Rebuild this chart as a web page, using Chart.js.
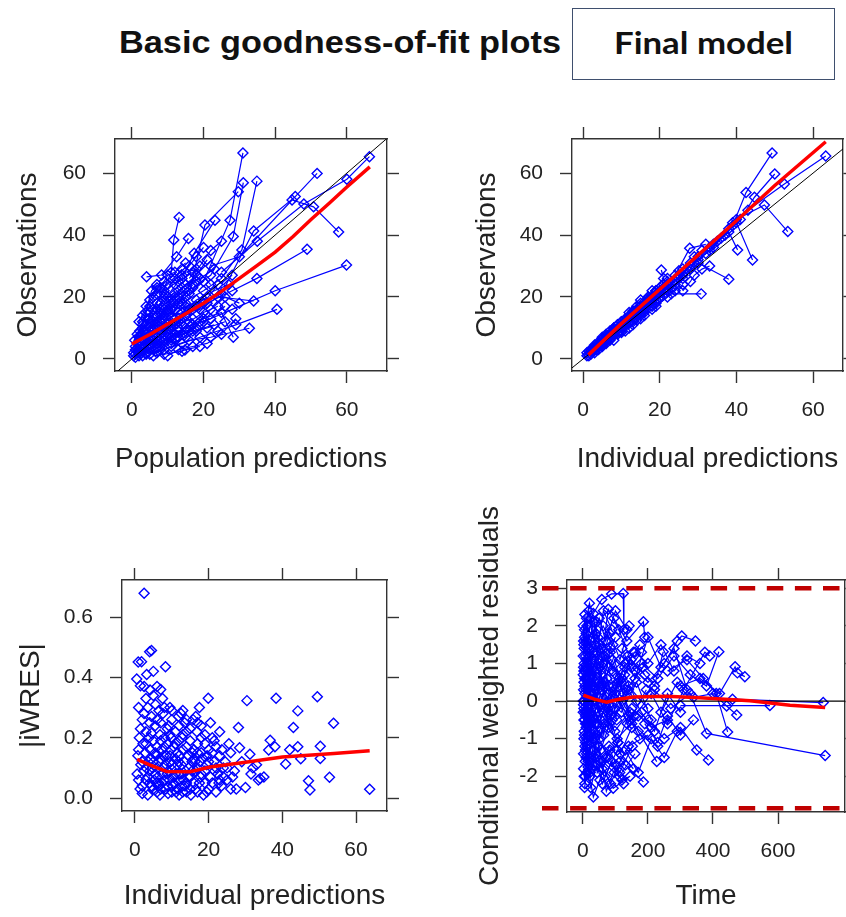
<!DOCTYPE html>
<html>
<head>
<meta charset="utf-8">
<script src="https://cdn.jsdelivr.net/npm/chart.js@4"></script>
<style>
  html, body { margin: 0; padding: 0; background: #fff; width: 846px; height: 917px; overflow: hidden; }
  canvas { position: absolute; }
  #title { position: absolute; left: 119px; top: 27px; font: bold 31px 'Liberation Sans', Arial, sans-serif;
           line-height: 31px; color: #111; white-space: nowrap; transform-origin: 0 0; }
  #modelBox { position: absolute; left: 572px; top: 8px; width: 263px; height: 72px;
              border: 1.5px solid #3f4f6e; box-sizing: border-box; }
  #modelText { position: absolute; left: 614px; top: 27px; font: bold 30px Lato, 'Open Sans', sans-serif;
               line-height: 30px; color: #111; white-space: nowrap; transform-origin: 0 0; }
</style>
</head>
<body>
<div id="title">Basic goodness-of-fit plots</div>
<div id="modelBox"></div>
<div id="modelText">Final model</div>
<canvas id="p1" width="423" height="380" style="left:0;top:100px"></canvas>
<canvas id="p2" width="423" height="380" style="left:423px;top:100px"></canvas>
<canvas id="p3" width="423" height="437" style="left:0;top:480px"></canvas>
<canvas id="p4" width="423" height="437" style="left:423px;top:480px"></canvas>
<script>
// ---- axis ranges and tick values ----
const popPredRange = [-4.7, 71.2];
const obsRange = [-3.9, 71];
const indPredRange = [-2.9, 67.8];
const indPredRange3 = [-3.5, 68.4];
const iwresRange = [-0.043, 0.723];
const timeRange = [-49, 806];
const cwresRange = [-2.95, 3.22];

const predTicks = [0, 20, 40, 60];
const obsTicks = [0, 20, 40, 60];
const iwresTicks = [0, 0.2, 0.4, 0.6];
const timeTicks = [0, 200, 400, 600];
const cwresTicks = [-2, -1, 0, 1, 2, 3];

// reference levels on the residual panel
const cwresZero = 0;
const cwresBounds = [3, -2.85];

// ---- observations vs population predictions, one array per subject [PRED, DV] ----
const popPredVsObs = [
  [[0.5,2],[2,4],[5,7],[9,12],[13,15]],
  [[1,0.5],[3,3],[6,6],[10,9],[14,11]],
  [[1.5,5],[4,9],[8,14],[12,18],[16,22]],
  [[2,3],[4,6],[7,10],[11,13.5],[15,17],[20,19]],
  [[3,1],[5,3],[8,5],[12,8],[18,10]],
  [[2.5,8],[5,13],[9,19],[13,25],[17,28]],
  [[4.1,26.5],[8.3,27.1],[12.5,33],[15.8,38.9]],
  [[3,10],[7,18],[11,28],[11.7,38.4],[13.2,45.7]],
  [[6,4],[10,7],[15,10],[20,13],[25,15],[28.3,7]],
  [[7,2],[11,4],[16,6],[22,7],[32.8,9.9]],
  [[5,15],[9,22],[14,26],[17.4,34.1],[23.2,44.8]],
  [[8,8],[13,12],[19,16],[24,20],[34,18.7]],
  [[10,16],[15,20],[20,25],[27.4,44.8],[31,66.5]],
  [[9,3],[14,5],[19,7],[24,9],[29,11],[40.5,16]],
  [[12,20],[17,23],[22,27],[28.3,39.5],[31.1,56.9]],
  [[14,18],[20,22],[25,26],[30.7,35.2],[34.9,57.4]],
  [[6,12],[11,16],[16,21],[20.4,43.2],[29.7,54]],
  [[15,14],[21,18],[28,22],[34.9,26],[48.9,35.4]],
  [[18,17],[25,21],[34,41.3],[45.6,52.4],[51.7,59.9]],
  [[20,12],[28,16],[40,22],[59.9,30.3]],
  [[22,30],[30,33],[44.7,51.3],[50.7,49.1],[57.7,41]],
  [[25,28],[35,38],[48,50],[60,58],[66.3,65.3]],
  [[3,6],[6,9],[9,10],[12,11],[17,13]],
  [[1,1.5],[2.5,2],[4,4],[6,5],[8,6]],
  [[2,12],[4,17],[7,21],[10,24],[14,29]],
  [[5,5],[8,9],[12,13],[16,16],[21,20]],
  [[4,2],[7,5],[10,11],[13,18],[17,24]],
  [[9,10],[13,9],[17,11],[22,13],[26,17]],
  [[2,7],[3,11],[5,19],[7,23],[9,25]],
  [[6,1],[9,1.5],[14,2.5],[14.8,2.9],[19,4]],
  [[10,13],[14,15],[18,19],[23,22],[27,24]],
  [[11,5],[15,7],[18,9],[21,10],[26,12]],
  [[16,26],[19,30],[22,35],[25,38]],
  [[7,14],[10,20],[13,22],[18,27],[21,32]],
  [[3,4],[5,6],[7,7],[9,8],[11,9],[13,10]],
  [[1,3],[2,6],[4,11],[6,16],[8,18]],
  [[12,24],[14,27],[16,30],[18,33],[20,36]],
  [[0.5,1],[1.5,2.5],[3,5],[5,8],[7,11],[10,15]],
  [[1,4],[2,7],[3.5,9],[6,12],[9,16],[12,21]],
  [[2,2],[3.5,3.5],[5,4.5],[7,6],[10,8],[13,12]],
  [[4,8],[6,11],[8,13],[11,19],[14,23],[18,25]],
  [[5,1.5],[8,3],[11,6],[14,8],[17,9],[23,11]],
  [[6,20],[8,23],[10,27],[12,28],[15,31]],
  [[7,3.5],[9,6],[12,6.5],[16,12],[20,15],[24,17]],
  [[8,15],[11,18],[15,24],[19,26],[23,29]],
  [[3,14],[5,17],[7,16],[9,20],[13,20]],
  [[10,1],[13,3],[17,4],[21,5],[25,8],[29,13]],
  [[1.5,8],[3,12],[4.5,13],[6,14],[8,16]],
  [[9,21],[12,26],[15,28],[18,29],[22,24]],
  [[2,1],[4,1.5],[6,3],[8,4],[11,7],[15,9]],
  [[13,7],[16,9],[19,12],[22,16],[26,20],[30,18]],
  [[0.8,6],[2.2,9],[3.8,15],[5.5,22],[7,24]],
  [[11,10],[14,13],[17,16],[20,18],[24,24],[28,27]],
  [[5,10],[7,12],[9,14],[12,16],[15,18]]
];
const popPredSmooth = [[0,4.8],[5,7.9],[10,11.3],[15,14.6],[20,18],[25,21.8],[30,26],[35,30.2],[40,34.5],[45,39.5],[50,45],[55,50.2],[60,55.5],[66.4,62]];

// ---- observations vs individual predictions, one array per subject [IPRED, DV] ----
const indPredVsObs = [
  [[1,1],[2.5,3],[4.5,5],[8,9],[12,13]],
  [[1.5,2.5],[3,3.5],[5,6.5],[7,7.5],[10,11]],
  [[2,1.5],[4,4],[6,7],[9,9.5],[13,14],[17,19]],
  [[3,2],[5,5],[7,8],[10,10],[14,15.5]],
  [[2,3],[4,5.5],[6,6],[8,8],[11,12.5],[15,16]],
  [[5,7],[8,10],[11,13],[15,18],[19,22],[22,26]],
  [[6,5],[9,8],[12,12],[16,17],[20,21],[24,25]],
  [[7,9],[10,12],[13,15],[17,20],[21,24],[25,28.5]],
  [[3,4.5],[6,8],[9,11],[12,14],[15,17],[18,20]],
  [[4,3],[7,6],[10,9],[13,12],[16,15],[19,18]],
  [[8,6],[11,9],[14,12.5],[18,16],[22,20],[26,24]],
  [[9,11],[12,15],[15,19],[18,22],[21,26],[20.4,28.7]],
  [[10,8.5],[13,11],[16,14],[19,17],[23,21],[30.8,21]],
  [[14,17],[17,19],[20,23],[24,27],[27.8,35.7],[32,37]],
  [[16,16],[19,19],[22,22],[26,26],[30,31],[38,25.7]],
  [[22,24],[26,29],[30,33],[34,37],[38,41],[40.3,35.2]],
  [[25,27],[29,31],[33,35],[37,40],[40,44],[44.2,31.9]],
  [[28,30],[32,34],[36,39],[39,43],[42.5,53.7],[49.3,66.5]],
  [[30,32],[34,36],[38,42],[41,45],[44.7,52.2],[50,59.7]],
  [[33,36],[37,40],[40,45],[47.3,49.7],[53.4,41.1]],
  [[35,38],[39,44],[43,48],[52.5,56.5],[63.3,65.5]],
  [[1,2],[2,2.5],[3,3],[5,4.5],[6,6.5]],
  [[11,12],[14,14],[17,18],[20,20],[23,23]],
  [[12,10],[15,13],[18,17],[21,21],[24,22]],
  [[26,22],[28,25],[29,27],[31,29],[33,30]],
  [[1.5,1],[3.5,3],[5.5,5],[7.5,7],[9.5,9],[12,11.5]],
  [[2.5,3.5],[4,5],[6,7.5],[8,9.5],[10,12],[13,15.5]],
  [[3,3],[5,6],[7,7],[9,10],[11,11],[14,14.5]],
  [[4,4.5],[6,5.5],[8,9],[10,11],[13,13.5],[16,18]],
  [[5,4],[7,7],[9,8.5],[12,13],[15,15],[18,19]],
  [[6,6.5],[8,8],[11,11.5],[14,16],[17,18],[20,22]],
  [[13,15],[16,17],[19,21],[22,25],[25,26],[28,31]],
  [[15,14],[18,18],[21,22],[24,24],[27,29],[29,33]],
  [[17,20],[19,22],[23,24],[26,27],[28,29],[31,35]],
  [[8,10],[10,10.5],[12,13.5],[14,15],[16,17.5],[19,20.5]]
];
const indPredSmooth = [[1.4,1.3],[10,11.4],[20,22.5],[30,33.5],[40,44.6],[50,56],[63.3,70.1]];

// ---- |IWRES| vs individual predictions [IPRED, |IWRES|] ----
const indPredAbsIwres = [
  [0.5,0.395],[0.9,0.451],[1.8,0.452],[2.5,0.679],[1.5,0.372],[2.5,0.37],[1,0.3],[2,0.26],[1.2,0.2],[2.2,0.18],
  [0.8,0.14],[1.6,0.11],[2.4,0.09],[1,0.06],[2,0.04],[3,0.22],[3,0.33],[2.8,0.15],[1.4,0.03],[0.6,0.08],[3,0.06],
  [4.1,0.358],[4.5,0.489],[4,0.485],[3.5,0.3],[5,0.34],[4.5,0.27],[5.5,0.24],[3.8,0.2],[5,0.19],[4.2,0.16],
  [5.8,0.14],[3.6,0.12],[4.8,0.1],[5.5,0.08],[4,0.05],[5,0.03],[6,0.02],[3.5,0.01],[5.2,0.06],[4.4,0.13],[6,0.17],[5.6,0.31],
  [6.5,0.29],[7,0.25],[8.3,0.435],[7.5,0.33],[6.8,0.21],[8,0.2],[7.2,0.16],[8.5,0.14],[6.5,0.12],[7.8,0.1],
  [8.8,0.08],[6.2,0.07],[7.4,0.05],[8.4,0.03],[9,0.015],[6.8,0.01],[7.6,0.28],[8.8,0.23],[9,0.18],[6.3,0.04],
  [9.5,0.3],[10,0.26],[11,0.22],[9.8,0.2],[10.5,0.17],[11.5,0.15],[9.6,0.12],[10.8,0.1],[11.8,0.08],[9.3,0.06],
  [10.2,0.04],[11.2,0.02],[12,0.01],[10.6,0.07],[11,0.13],[12,0.19],[9.2,0.24],[11.8,0.27],
  [12.5,0.28],[13.5,0.25],[14,0.22],[12.8,0.2],[15,0.19],[13,0.16],[14.5,0.14],[15.5,0.12],[12.6,0.11],[13.8,0.09],
  [15,0.07],[16,0.05],[12.8,0.04],[14,0.02],[15.2,0.01],[13.2,0.06],[16,0.16],[14.6,0.1],[13,0.29],[15.8,0.26],
  [16.5,0.27],[17.5,0.3],[16.8,0.22],[18,0.2],[19,0.18],[17,0.15],[18.5,0.13],[19.5,0.11],[16.5,0.09],[17.8,0.07],
  [19,0.05],[20,0.03],[17,0.02],[18.6,0.01],[19.9,0.331],[18,0.24],[20,0.16],[16.3,0.12],
  [21,0.2],[22,0.17],[23,0.14],[21.5,0.12],[24,0.1],[22.5,0.08],[25,0.06],[21,0.05],[23.5,0.04],[26,0.03],
  [22,0.02],[24.5,0.12],[26,0.15],[27,0.09],[21.5,0.19],[23,0.22],[25.5,0.18],[27.5,0.03],[20.5,0.25],[24,0.07],
  [28.1,0.234],[28.4,0.167],[30,0.035],[30.4,0.323],[31.2,0.145],[32,0.1],[33,0.11],[34,0.065],[35,0.07],[36.3,0.159],
  [36.7,0.192],[38.3,0.331],[40.9,0.113],[42,0.16],[43,0.234],[44.2,0.289],[44.2,0.17],[47.1,0.057],[47.5,0.027],
  [49.5,0.336],[50.3,0.172],[50.3,0.131],[52.8,0.069],[53.9,0.248],[63.7,0.029],[29,0.12],[31.5,0.08],[33.5,0.06],[38,0.17],[45,0.13],
  [2,0.12],[3,0.1],[3.5,0.07],[4,0.09],[4.5,0.04],[5,0.12],[5.5,0.15],[6,0.1],[6.5,0.05],[7,0.03],
  [7,0.13],[7.5,0.08],[8,0.06],[8,0.17],[8.5,0.11],[9,0.04],[9,0.09],[9.5,0.14],[10,0.02],[10,0.11],
  [10.5,0.05],[11,0.08],[11.5,0.03],[11.5,0.11],[12,0.06],[12,0.14],[12.5,0.08],[13,0.02],[13.5,0.12],[14,0.05],
  [14,0.17],[14.5,0.07],[15,0.03],[15.5,0.09],[16,0.13],[16.5,0.03],[17,0.1],[17.5,0.05],[18,0.08],[18,0.15],
  [19,0.09],[19.5,0.02],[20,0.12],[20.5,0.07],[21,0.15],[22,0.1],[23,0.06],[3,0.18],[4,0.25],[6,0.26],
  [7,0.19],[9.5,0.21],[11,0.18],[13,0.21],[15,0.23],[17,0.18],[19,0.21],[2.5,0.28],[3.2,0.41],[5,0.42],
  [6,0.37],[7,0.36],[10,0.29],[12,0.24],[17,0.25],[14,0.26],[8,0.3],[1.5,0.23],[1,0.16],[2,0.015],
  [4.5,0.215],[5.8,0.05],[7.8,0.14],[9.8,0.16],[11.8,0.12],[13.6,0.04],[15.6,0.15],[17.6,0.12],[19.6,0.14],[21.6,0.09],
  [23.6,0.16],[25,0.1],[26.5,0.07],[22.8,0.05]
];
const iwresSmooth = [[0.6,0.128],[4,0.11],[8.6,0.088],[15,0.087],[20.4,0.103],[31,0.12],[40,0.136],[54,0.148],[63.7,0.157]];

// ---- CWRES vs time, one array per subject [TIME, CWRES] ----
const timeVsCwres = [
  [[5,0.6],[20,1.2],[45,0.3],[90,-0.5],[140,0.4],[200,-0.2]],
  [[8,-0.4],[25,-1.1],[50,-0.8],[100,0.2],[150,-0.6],[230,-1.2]],
  [[3,1.5],[15,0.9],[40,1.8],[70,1.1],[120,0.6],[180,1.3]],
  [[10,-1.5],[32,-2.55],[52,-2.1],[80,-1.2],[130,-1.7],[186,-2.15]],
  [[6,0.2],[22,-0.3],[48,0.5],[78,2.44],[110,1.9],[160,0.8]],
  [[12,2.0],[32,2.33],[58,2.7],[88,2.85],[124,2.86],[126,1.9]],
  [[4,-0.8],[18,-0.2],[35,-1.3],[65,-0.6],[105,-1.0],[170,-0.4]],
  [[15,1.0],[28,0.4],[55,1.4],[95,2.2],[135,1.6],[186,2.11],[190,1.7]],
  [[7,-2.0],[16,-1.75],[40,-1.4],[93,-2.32],[145,-2.0],[120,-2.1]],
  [[9,0.9],[24,1.6],[42,2.1],[34,2.1],[62,1.0],[100,1.7]],
  [[2,-0.1],[14,0.4],[38,-0.6],[72,0.1],[118,-0.3],[165,0.5],[210,-0.5]],
  [[11,-1.0],[26,-0.5],[60,-1.6],[96,-1.9],[140,-1.2],[200,-0.9]],
  [[5,1.9],[20,2.6],[46,1.7],[84,1.3],[128,0.9],[175,1.5]],
  [[13,-0.3],[36,0.8],[66,-0.2],[102,0.7],[148,1.1],[220,0.4],[247,1.31]],
  [[6,-1.2],[22,-1.9],[44,-0.9],[76,-1.5],[112,-2.0],[160,-1.4]],
  [[17,0.1],[40,-0.2],[80,0.4],[120,0.0],[170,-0.8],[227,-1.61]],
  [[3,0.5],[12,-0.6],[30,0.0],[56,0.7],[86,-0.4],[132,0.3]],
  [[8,1.2],[26,0.7],[54,1.5],[92,0.8],[138,1.2],[190,0.7]],
  [[10,-0.7],[32,-1.0],[62,-0.3],[98,-0.8],[150,-0.2],[210,-0.7],[260,-0.5]],
  [[150,0.9],[200,0.5],[250,1.0],[290,1.6],[304,1.73],[346,1.6]],
  [[160,-0.4],[210,0.2],[260,-0.6],[310,0.3],[375,1.3],[390,1.2]],
  [[180,1.0],[230,0.6],[280,1.2],[330,0.7],[380,0.4],[418,1.31]],
  [[200,-0.5],[250,-1.0],[300,-0.7],[350,-1.3],[386,-1.57]],
  [[220,0.3],[270,-0.2],[330,0.2],[380,-0.86],[745,-1.45]],
  [[240,-0.3],[290,0.5],[340,0.1],[400,0.2],[442,-0.13],[473,-0.37]],
  [[260,0.8],[320,1.1],[370,0.6],[410,0.2],[445,-0.82]],
  [[300,0.4],[360,0.6],[420,0.2],[468,0.91],[475,0.75],[498,0.65]],
  [[300,-0.12],[575,-0.12]],
  [[460,0.05],[739,-0.04]],
  [[2,0.9],[10,0.3],[24,-0.6],[44,-1.9],[70,-1.5],[108,-1.1]],
  [[1,-0.3],[8,-1.3],[20,-0.9],[50,-1.6],[85,-2.2],[115,-1.6]],
  [[4,0.0],[14,1.0],[32,1.3],[60,0.4],[90,1.1],[125,0.2],[185,0.9]],
  [[7,-1.6],[18,-0.4],[34,-1.7],[68,-2.0],[106,-1.3],[155,-1.8]],
  [[12,1.4],[28,1.9],[52,0.9],[82,1.8],[114,1.1],[142,2.0]],
  [[2,0.3],[6,-0.5],[14,0.1],[26,0.9],[46,-0.3],[74,0.6],[104,-0.5]],
  [[3,-1.0],[9,0.6],[19,-0.4],[37,0.3],[64,-0.9],[94,0.4],[136,-0.6]],
  [[1,1.2],[5,1.7],[11,2.2],[23,1.0],[39,0.5],[57,-0.1],[79,0.9]],
  [[190,-0.6],[230,-1.1],[260,-0.4],[300,-0.9],[340,-0.5]],
  [[160,1.3],[200,1.0],[240,1.5],[280,0.8],[320,1.2],[360,1.0]],
  [[1,2.0],[4,1.4],[10,1.8],[20,0.6],[36,1.5],[62,2.0],[92,1.5]],
  [[2,-1.8],[6,-2.2],[13,-1.2],[27,-1.8],[48,-1.2],[72,-2.4],[102,-1.7]],
  [[3,-0.5],[7,0.8],[15,-0.2],[30,0.6],[50,1.0],[75,-0.2],[110,0.5],[145,-0.3]],
  [[1,0.7],[5,-0.9],[11,0.1],[21,1.4],[41,0.0],[66,1.2],[97,0.3],[130,1.0]],
  [[2,-1.4],[8,-0.6],[16,-1.6],[33,-0.8],[55,-1.3],[82,-0.6],[115,-1.4],[150,-0.7]],
  [[4,1.0],[9,1.6],[18,2.4],[30,1.7],[50,2.2],[70,1.6],[100,2.4],[135,1.9]],
  [[5,-2.3],[12,-1.9],[24,-2.3],[42,-1.7],[60,-2.2],[88,-1.6],[125,-2.2]],
  [[6,0.4],[14,-0.9],[28,0.2],[46,-0.6],[68,0.5],[98,-0.2],[128,0.7],[165,0.0]],
  [[3,-0.2],[10,1.1],[20,0.2],[38,1.2],[58,0.3],[85,1.4],[118,0.5],[155,1.3]],
  [[8,-1.1],[17,-1.5],[31,-0.4],[51,-1.0],[77,-0.3],[107,-1.1],[140,-0.4],[175,-1.0]],
  [[2,1.6],[6,2.3],[13,1.5],[25,2.2],[43,1.3],[63,2.4],[89,1.9]],
  [[9,-0.3],[19,0.5],[35,-0.5],[53,0.8],[79,-0.7],[111,0.6],[146,-0.5],[195,0.3]],
  [[4,-2.0],[11,-1.4],[22,-2.0],[39,-1.5],[59,-1.8],[83,-1.3],[113,-1.9],[152,-1.2]],
  [[1,0.0],[3,0.8],[7,-0.3],[12,0.6],[22,-0.7],[35,0.4],[55,-0.5],[80,0.2]],
  [[100,-0.4],[140,0.3],[180,-0.3],[220,-0.8],[260,0.2],[300,-0.3]],
  [[120,1.4],[160,0.6],[200,1.7],[240,0.9],[280,1.4],[320,0.3]],
  [[130,-1.3],[170,-1.9],[210,-1.0],[250,-1.5],[290,-0.8]]
];
const cwresSmooth = [[1,0.16],[35,0.05],[73,-0.03],[110,0.05],[155,0.11],[257,0.13],[360,0.09],[514,0.01],[637,-0.11],[745,-0.17]];

// ---- styling helpers ----
const FONT = "'Liberation Sans', Arial, sans-serif";
const INK = '#222';
const FRAME = '#333';
const BLUE = '#0000ff';

const toXY = pts => pts.map(([x, y]) => ({ x, y }));

function blueSets(groups, connect) {
  return groups.map(g => ({
    data: toXY(g), showLine: connect, borderColor: BLUE, borderWidth: 1.2,
    pointStyle: 'rectRot', pointRadius: 5, pointBorderColor: BLUE, pointBorderWidth: 1.4,
    pointBackgroundColor: 'rgba(0,0,0,0)', order: 3, clip: 0
  }));
}
function smoothSet(pts) {
  return { data: toXY(pts), showLine: true, borderColor: '#ff0000', borderWidth: 3.5,
           pointRadius: 0, order: 0, clip: 0 };
}
function plainLine(pts, color, width, order) {
  return { data: toXY(pts), showLine: true, borderColor: color, borderWidth: width,
           pointRadius: 0, order, clip: 0 };
}
function identitySet(xr, yr) {
  const lo = Math.min(xr[0], yr[0]), hi = Math.max(xr[1], yr[1]);
  return plainLine([[lo, lo], [hi, hi]], '#000', 1, 1);
}

function axis(pos, range, ticks, size, o = {}) {
  const horiz = pos === 'top' || pos === 'bottom';
  const labelled = pos === 'bottom' || pos === 'left';
  return {
    type: 'linear', position: pos, min: range[0], max: range[1],
    afterBuildTicks: s => { s.ticks = ticks.map(v => ({ value: v })); },
    afterFit: s => { if (horiz) s.height = size; else s.width = size; },
    grid: { drawOnChartArea: false, drawTicks: true, tickLength: 12, tickWidth: 1.4, tickColor: FRAME, color: FRAME },
    border: { display: true, color: FRAME, width: 1.4 },
    ticks: { display: labelled, font: { family: FONT, size: 21 }, color: INK, padding: horiz ? 15 : 17,
             autoSkip: false, maxRotation: 0, callback: o.fmt || (v => String(v)) },
    title: labelled
      ? { display: true, text: o.title, font: { family: FONT, size: 28 }, color: INK,
          padding: horiz ? { top: 0, bottom: o.tpad } : { top: o.tpad, bottom: 0 } }
      : { display: false }
  };
}

// dashed reference bounds, drawn from a little left of the frame across the panel
const boundLines = {
  id: 'boundLines',
  afterDraw(chart, args, opts) {
    if (!opts.values) return;
    const { ctx, chartArea: a, scales: { y } } = chart;
    ctx.save();
    ctx.strokeStyle = '#c00000';
    ctx.lineWidth = 4.5;
    ctx.setLineDash([16.5, 11.6]);
    opts.values.forEach(v => {
      const py = y.getPixelForValue(v);
      ctx.beginPath(); ctx.moveTo(a.left - 25, py); ctx.lineTo(a.right, py); ctx.stroke();
    });
    ctx.restore();
  }
};

function panel(id, datasets, sc, extra = {}) {
  return new Chart(document.getElementById(id), {
    type: 'scatter',
    data: { datasets },
    options: {
      responsive: false, animation: false, devicePixelRatio: 1, events: [],
      layout: { padding: 0, autoPadding: false },
      plugins: Object.assign({ legend: { display: false }, tooltip: { enabled: false } }, extra),
      scales: sc
    },
    plugins: [boundLines]
  });
}

// Observations vs population predictions
panel('p1', [smoothSet(popPredSmooth), identitySet(popPredRange, obsRange), ...blueSets(popPredVsObs, true)], {
  x: axis('bottom', popPredRange, predTicks, 109, { title: 'Population predictions', tpad: 4 }),
  x2: axis('top', popPredRange, predTicks, 39),
  y: axis('left', obsRange, obsTicks, 115, { title: 'Observations', tpad: 11 }),
  y2: axis('right', obsRange, obsTicks, 36)
});

// Observations vs individual predictions
panel('p2', [smoothSet(indPredSmooth), identitySet(indPredRange, obsRange), ...blueSets(indPredVsObs, true)], {
  x: axis('bottom', indPredRange, predTicks, 109, { title: 'Individual predictions', tpad: 4 }),
  x2: axis('top', indPredRange, predTicks, 39),
  y: axis('left', obsRange, obsTicks, 149, { title: 'Observations', tpad: 47 }),
  y2: axis('right', obsRange, obsTicks, 3)
});

// |IWRES| vs individual predictions
panel('p3', [smoothSet(iwresSmooth), ...blueSets([indPredAbsIwres], false)], {
  x: axis('bottom', indPredRange3, predTicks, 106, { title: 'Individual predictions', tpad: 4 }),
  x2: axis('top', indPredRange3, predTicks, 100),
  y: axis('left', iwresRange, iwresTicks, 122, { title: '|iWRES|', tpad: 14, fmt: v => v.toFixed(1) }),
  y2: axis('right', iwresRange, iwresTicks, 36)
});

// CWRES vs time
panel('p4', [smoothSet(cwresSmooth), plainLine([[timeRange[0], cwresZero], [timeRange[1], cwresZero]], '#000', 1.3, 1),
             ...blueSets(timeVsCwres, true)], {
  x: axis('bottom', timeRange, timeTicks, 105, { title: 'Time', tpad: 4 }),
  x2: axis('top', timeRange, timeTicks, 100),
  y: axis('left', cwresRange, cwresTicks, 144, { title: 'Conditional weighted residuals', tpad: 50 }),
  y2: axis('right', cwresRange, cwresTicks, 1)
}, { boundLines: { values: cwresBounds } });

// stretch the heading texts to their drawn widths
function fitWidth(id, w) {
  const el = document.getElementById(id);
  el.style.transform = 'scaleX(' + (w / el.getBoundingClientRect().width) + ')';
}
fitWidth('title', 442);
fitWidth('modelText', 179);
</script>
</body>
</html>
